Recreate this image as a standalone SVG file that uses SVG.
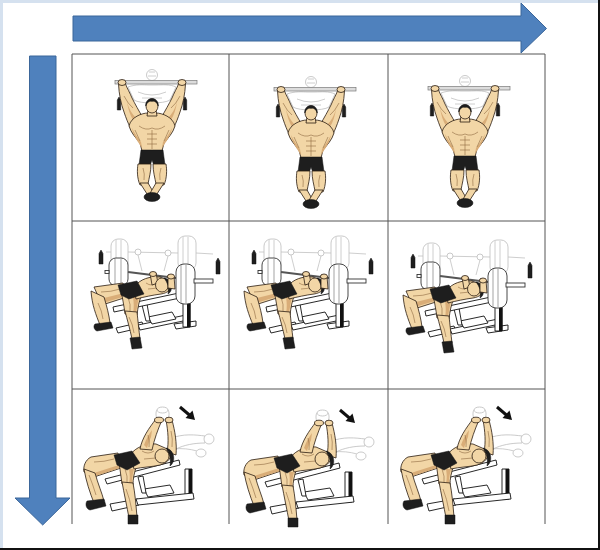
<svg xmlns="http://www.w3.org/2000/svg" width="600" height="550" viewBox="0 0 600 550">
<style>
.skin{fill:#f2d6a6;stroke:#2a1c10;stroke-width:0.8;stroke-linejoin:round}
.shade{fill:#d9ad78;stroke:none}
.dark{fill:#1e1e1e;stroke:#111;stroke-width:0.5}
.ghost{fill:#fff;stroke:#bdbdbd;stroke-width:0.8}
.gl{fill:none;stroke:#c2c2c2;stroke-width:0.8}
.mus{fill:none;stroke:#8f6a42;stroke-width:0.6}
.wb{fill:#fff;stroke:#111;stroke-width:0.9;stroke-linejoin:round}
.plate{fill:#fff;stroke:#333;stroke-width:0.9}
.pl{fill:none;stroke:#666;stroke-width:0.6}
.grid{stroke:#555;stroke-width:1;fill:none}
.big{fill:#4f81bd;stroke:#3b669a;stroke-width:1}
</style>
<defs>
<g id="pullup">
<circle cx="80" cy="21" r="5.5" class="ghost"/>
<path class="gl" d="M77,18 L83,18 M76,22 L84,22"/>
<path class="ghost" d="M56,33 C64,30 72,31 76,31 L84,31 C90,31 98,30 104,33 L98,46 C92,50 68,50 62,46 Z"/>
<path class="gl" d="M66,38 Q80,44 94,38 M70,44 L90,44"/>
<rect x="43" y="26.5" width="82" height="3.5" fill="#dcdcdc" stroke="#7a7a7a" stroke-width="0.7"/>
<path class="dark" d="M47,43 L48.7,46 L48.7,56 L45.3,56 L45.3,46 Z"/>
<path class="dark" d="M113,43 L114.7,46 L114.7,56 L111.3,56 L111.3,46 Z"/>
<path class="skin" d="M46.5,30 C47,40 49,50 52,58 C54,64 56,69 58,73 L71,64 C67,57 63,50 60,44 C58,39 55,34 53.5,30 Z"/>
<path class="skin" d="M113.5,30 C113,40 111,50 108,58 C106,64 104,69 102,73 L89,64 C93,57 97,50 100,44 C102,39 105,34 106.5,30 Z"/>
<path class="shade" d="M55,48 C57,55 60,60 64,64 L61,66 C58,61 56,55 55,48 Z"/>
<path class="shade" d="M105,48 C103,55 100,60 96,64 L99,66 C102,61 104,55 105,48 Z"/>
<path class="mus" d="M52,42 Q56,50 61,54 M108,42 Q104,50 99,54"/>
<ellipse cx="50" cy="28.5" rx="4" ry="3" class="skin"/>
<ellipse cx="110" cy="28.5" rx="4" ry="3" class="skin"/>
<path class="skin" d="M57,72 C59,63 70,59 76,59 L84,59 C90,59 101,63 103,72 C101,79 96,84 92,89 L90,97 L70,97 L68,89 C64,84 59,79 57,72 Z"/>
<path class="shade" d="M60,74 C63,80 66,84 69,88 L70,94 C66,88 61,81 60,74 Z"/>
<path class="shade" d="M100,74 C97,80 94,84 91,88 L90,94 C94,88 99,81 100,74 Z"/>
<path class="mus" d="M67,72 Q74,77 80,74 Q86,77 93,72 M80,76 L80,95 M75,80 L85,80 M75,85 L85,85 M75,90 L85,90 M63,76 L68,87 M97,76 L92,87"/>
<path class="skin" d="M76,56 L84,56 L85,62 L75,62 Z"/>
<ellipse cx="80" cy="52" rx="6" ry="7" class="skin"/>
<path class="dark" d="M73.8,52 C73,42 87,42 86.2,52 C85,48 82,46.5 80,47.5 C78,46.5 75,48 73.8,52 Z"/>
<path class="dark" d="M69,96 L91,96 L93,111 L82,112 L80,106 L78,112 L67,111 Z"/>
<path class="skin" d="M66,110 L79,110 C79,118 77,124 76,130 L68,131 C65,124 65,116 66,110 Z"/>
<path class="skin" d="M81,110 L94,110 C95,116 95,124 92,131 L84,130 C83,124 81,118 81,110 Z"/>
<path class="skin" d="M68,129 L76,129 L83,141 L77,143 Z"/>
<path class="skin" d="M92,129 L84,129 L77,141 L83,143 Z"/>
<path class="mus" d="M71,114 Q73,120 72,126 M89,114 Q87,120 88,126"/>
<ellipse cx="80" cy="143" rx="8" ry="4.5" class="dark"/>
</g>
<g id="bench">
<rect x="35" y="18" width="17" height="31" rx="7" class="ghost"/>
<path class="gl" d="M40,19 L40,48 M45,19 L45,48"/>
<rect x="102" y="15" width="18" height="34" rx="7" class="ghost"/>
<path class="gl" d="M107,16 L107,48 M112,16 L112,48"/>
<path class="gl" d="M52,31 L102,32 M120,32 L137,33 M30,31 L35,31"/>
<circle cx="62" cy="31" r="3" class="ghost"/>
<circle cx="92" cy="32" r="3" class="ghost"/>
<path class="gl" d="M62,34 L66,50 M92,35 L88,50"/>
<path class="dark" d="M25,29 L27,32.5 L27,43 L23,43 L23,32.5 Z"/>
<path class="dark" d="M142,37 L144,40.5 L144,53 L140,53 L140,40.5 Z"/>
<path class="wb" d="M40,107 L66,101 L68,106 L42,112 Z"/>
<path class="wb" d="M62,104 L110,94 L112,99 L64,109 Z"/>
<path class="wb" d="M72,96 L96,91 L100,98 L76,103 Z"/>
<path class="wb" d="M98,103 L120,100 L120,105 L100,108 Z"/>
<rect x="107" y="76" width="7" height="30" class="wb"/>
<rect x="111" y="76" width="3.5" height="30" fill="#111"/>
<path class="wb" d="M66,84 L70,100 L74,100 L71,83 Z"/>
<path class="wb" d="M37,86 L103,72 L104,77 L38,91 Z"/>
<rect x="33" y="37" width="19" height="28" rx="7" class="plate"/>
<path class="pl" d="M39,38 L39,64 M45,38 L45,64"/>
<rect x="29" y="49.5" width="4" height="3" class="plate"/>
<path d="M52,51 L100,57" stroke="#555" stroke-width="2"/>
<path class="skin" d="M18,66 L47,62 L51,76 L26,84 Z"/>
<path class="shade" d="M24,78 L48,72 L50,75 L27,82 Z"/>
<path class="skin" d="M15,70 L28,76 C31,86 33,94 34,102 L24,104 C20,94 16,84 15,70 Z"/>
<path class="mus" d="M25,71 Q35,71 44,68 M22,82 Q26,90 27,98"/>
<path class="dark" d="M19,103 L35,101 L37,107 L21,110 C18,109 17,105 19,103 Z"/>
<path class="skin" d="M45,68 L66,73 C63,80 62,86 61,94 L49,93 C48,84 46,76 45,68 Z"/>
<path class="shade" d="M57,76 C58,82 58,88 57,92 L60,92 C61,86 62,80 63,76 Z"/>
<path class="skin" d="M49,90 L61,91 C62,100 63,110 64,118 L56,118 C54,108 51,98 49,90 Z"/>
<path class="mus" d="M52,76 Q55,84 54,90 M53,96 Q57,104 58,112"/>
<path class="dark" d="M54,117 L64,116 L66,127 L56,128 Z"/>
<path class="skin" d="M58,66 C64,58 74,55 84,56 L96,62 C96,68 92,72 85,73 C77,74 68,76 60,78 Z"/>
<path class="mus" d="M70,62 Q76,66 80,62 M72,68 L82,67"/>
<path class="dark" d="M42,64 L61,60 L68,73 L53,78 L45,74 Z"/>
<path class="skin" d="M74,52 L80,52 L82,62 L76,64 Z"/>
<ellipse cx="86" cy="64" rx="6.5" ry="7" class="skin"/>
<path class="dark" d="M88,57 C96,58 98,70 92,73 C93,67 92,62 88,57 Z"/>
<path class="skin" d="M92,54 L98,55 L99,68 L92,67 Z"/>
<ellipse cx="77" cy="53" rx="3.5" ry="2.5" class="skin"/>
<ellipse cx="95" cy="55.5" rx="3.5" ry="2.5" class="skin"/>
<rect x="100" y="43" width="19" height="40" rx="8" class="plate"/>
<path class="pl" d="M105,44 L105,82 M110,44 L110,82"/>
<rect x="118" y="58" width="19" height="4" class="plate"/>
</g>
<g id="pullover">
<rect x="113" y="80" width="7" height="30" class="wb"/>
<rect x="116.5" y="80" width="3.5" height="30" fill="#111"/>
<path class="wb" d="M38,115 L66,110 L67,116 L40,122 Z"/>
<path class="wb" d="M64,110 L121,104 L122,110 L66,116 Z"/>
<path class="wb" d="M72,100 L98,96 L102,104 L76,108 Z"/>
<path class="wb" d="M66,88 L70,104 L74,104 L71,87 Z"/>
<path class="wb" d="M33,90 L107,71 L108,76 L35,95 Z"/>
<path class="skin" d="M46,64 L19,68 C13,71 11,78 12,83 L22,88 L49,79 Z"/>
<path class="shade" d="M22,84 L47,76 L48,79 L23,87 Z"/>
<path class="skin" d="M12,80 L23,84 C26,95 30,104 32,112 L22,114 C18,104 14,92 12,80 Z"/>
<path class="mus" d="M22,73 Q32,73 42,70 M17,86 Q21,96 24,106"/>
<path class="dark" d="M15,112 L32,110 L34,117 L18,121 C14,120 13,115 15,112 Z"/>
<path class="skin" d="M47,73 L65,76 C62,84 61,90 61,96 L50,95 C49,88 48,80 47,73 Z"/>
<path class="shade" d="M57,80 C58,86 58,90 57,94 L60,94 C60,88 61,84 62,80 Z"/>
<path class="skin" d="M50,93 L61,94 C63,104 64,116 65,128 L57,129 C55,118 52,104 50,93 Z"/>
<path class="mus" d="M53,80 Q56,88 55,93 M54,100 Q58,110 60,122"/>
<path class="dark" d="M56,126 L66,126 L66,135 L56,135 Z"/>
<path class="skin" d="M58,66 C64,58 74,54 84,55 L100,62 C100,68 96,74 88,76 C80,78 70,78 62,80 Z"/>
<path class="mus" d="M70,62 Q76,66 82,62 M72,70 L84,69"/>
<path class="dark" d="M42,66 L60,62 L68,74 L55,81 L45,76 Z"/>
<path class="ghost" d="M98,50 C110,44 125,46 133,47 L133,54 C122,54 112,56 104,60 Z"/>
<path class="gl" d="M102,60 C110,59 118,60 125,62"/>
<ellipse cx="137" cy="50" rx="5" ry="5" class="ghost"/>
<ellipse cx="129" cy="64" rx="5" ry="4" class="ghost"/>
<path class="skin" d="M68,60 C70,49 77,39 84,30 L90,31 C86,40 82,51 80,61 Z"/>
<path class="skin" d="M95,63 C97,53 96,42 94,31 L100,31 C103,42 105,54 104,66 Z"/>
<path class="shade" d="M72,56 C74,50 77,45 80,41 L79,48 C77,52 76,56 75,59 Z"/>
<path class="mus" d="M76,46 Q78,52 77,58 M99,42 Q101,50 100,58"/>
<ellipse cx="90" cy="67" rx="7" ry="7" class="skin"/>
<path class="dark" d="M94,59 C103,61 104,73 98,77 C99,71 98,64 94,59 Z"/>
<rect x="84" y="19" width="13" height="12" rx="5" class="ghost" stroke="#999"/>
<ellipse cx="90.5" cy="21" rx="5.5" ry="3" class="ghost" stroke="#999"/>
<ellipse cx="87" cy="31" rx="4.5" ry="2.8" class="skin"/>
<ellipse cx="97" cy="31" rx="4" ry="2.8" class="skin"/>
<path d="M108,18 L118,26.5" stroke="#111" stroke-width="3"/>
<path d="M123,31 L113.5,29 L120.5,21.5 Z" fill="#111"/>
</g>
</defs>
<rect x="0" y="0" width="600" height="550" fill="#fff"/>
<path d="M0,1.5 L600,1.5 M1.5,0 L1.5,550" stroke="#d5e1ef" stroke-width="3"/>
<path d="M599,0 L599,550 M0,549 L600,549" stroke="#111" stroke-width="2"/>
<g id="arrows">
<polygon class="big" points="73,16 521,16 521,3 546.5,28.5 521,53 521,41 73,41"/>
<polygon class="big" points="29.5,56 56,56 56,498 70,498 42.7,525 15,498 29.5,498"/>
</g>
<g id="grid">
<path class="grid" d="M72,54 L545,54 M72,221 L545,221 M72,389 L545,389 M72,54 L72,524 M229,54 L229,524 M388,54 L388,524 M545,54 L545,524"/>
</g>
<g id="cell-pullup-1"><use href="#pullup" transform="translate(72,54)"/></g>
<g id="cell-pullup-2"><use href="#pullup" transform="translate(231,61)"/></g>
<g id="cell-pullup-3"><use href="#pullup" transform="translate(385,60)"/></g>
<g id="cell-bench-1"><use href="#bench" transform="translate(76,221)"/></g>
<g id="cell-bench-2"><use href="#bench" transform="translate(229,221)"/></g>
<g id="cell-bench-3"><use href="#bench" transform="translate(388,225)"/></g>
<g id="cell-pullover-1"><use href="#pullover" transform="translate(72,389)"/></g>
<g id="cell-pullover-2"><use href="#pullover" transform="translate(232,392)"/></g>
<g id="cell-pullover-3"><use href="#pullover" transform="translate(389,389)"/></g>
</svg>
